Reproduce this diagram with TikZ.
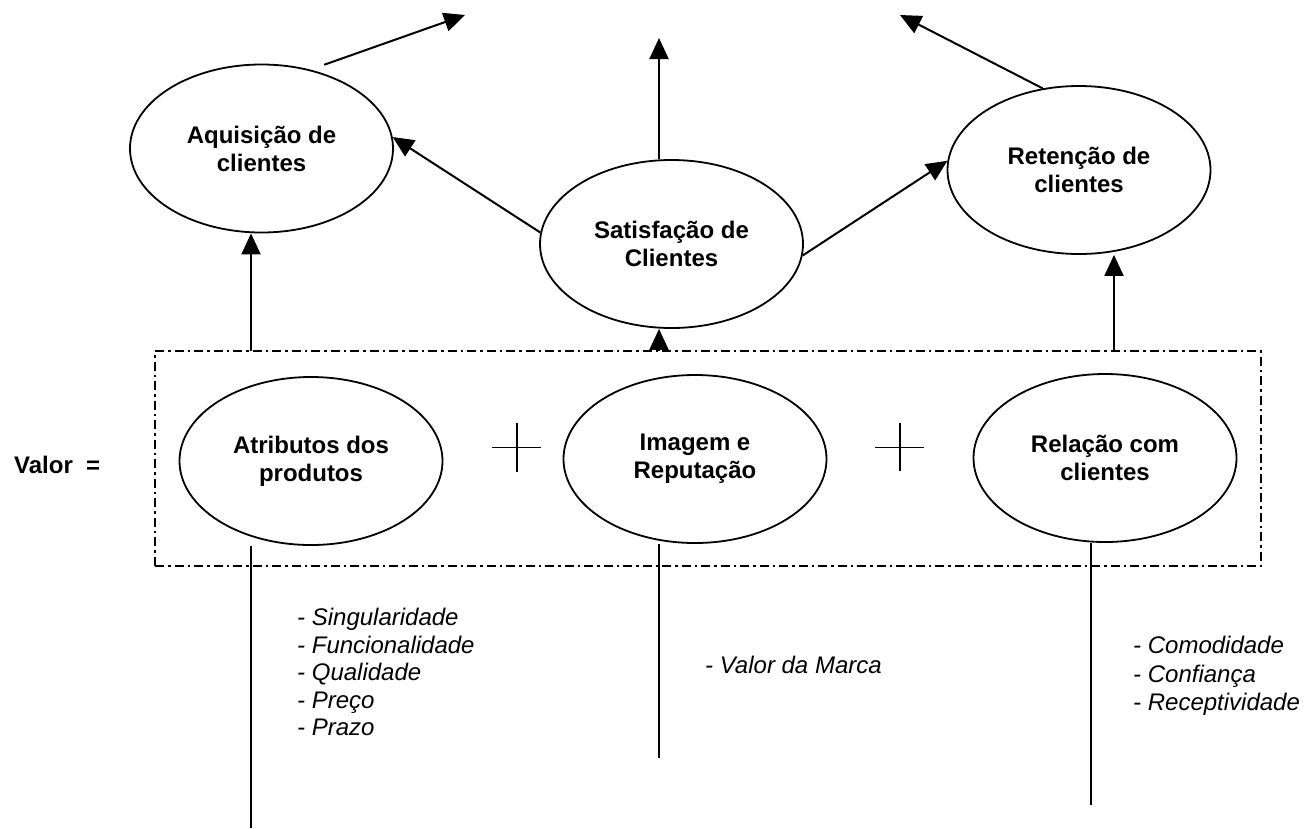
\documentclass[tikz,border=0pt]{standalone}
\usepackage{fontspec}
\setmainfont{Liberation Sans}
\usetikzlibrary{shapes.geometric,arrows.meta}
\begin{document}
\begin{tikzpicture}[x=1pt,y=-1pt,
  oval/.style={draw, line width=1.8pt, ellipse, minimum width=263pt, minimum height=168pt,
    inner sep=0pt, align=center, font=\fontsize{24}{28}\selectfont\bfseries},
  arr/.style={line width=2pt, -{Triangle[length=21pt,width=19pt]}},
  stem/.style={line width=2pt},
  frame/.style={draw, line width=1.8pt, dash pattern=on 9pt off 4pt on 2.5pt off 4pt},
  plusline/.style={line width=1.5pt},
  listtext/.style={align=left, inner sep=0pt, anchor=north west,
    font=\fontsize{24}{27.5}\selectfont\itshape},
  boldtext/.style={inner sep=0pt, font=\fontsize{24}{28}\selectfont\bfseries}]

\useasboundingbox (0,0) rectangle (1308,828);

% dashed frame around the three value components
\node[frame, minimum width=1106pt, minimum height=215pt, inner sep=0pt] (box) at (708,458.5) {};

% outcome ellipses
\node[oval] (aq)  at (261.5,148.5) {Aquisição de\\clientes};
\node[oval] (sat) at (671.5,244)   {Satisfação de\\Clientes};
\node[oval] (ret) at (1079,170)    {Retenção de\\clientes};

% value components
\node[oval] (atr) at (311,461)  {Atributos dos\\produtos};
\node[oval] (img) at (695,459)  {Imagem e\\Reputação};
\node[oval] (rel) at (1105,458) {Relação com\\clientes};

\node[boldtext, anchor=west] (valor) at (14,465) {Valor\ \ =};

% plus signs between components
\draw[plusline] (517,423) -- (517,472) (492,447.5) -- (541,447.5);
\draw[plusline] (900,423) -- (900,471) (875,447.5) -- (924,447.5);

% free ends of the connectors
\coordinate (t1) at (465,15);
\coordinate (t2) at (659,38);
\coordinate (t3) at (900,15);
\coordinate (b1) at (251,351);
\coordinate (b2) at (659,351);
\coordinate (b3) at (1114,351);
\coordinate (e1) at (251,828);
\coordinate (e2) at (659,758);
\coordinate (e3) at (1091,805);

% upward arrows
\draw[arr] ([yshift=9pt]aq.50) -- (t1);
\draw[arr] (t2 |- sat.north) -- (t2);
\draw[arr] (ret.114) -- (t3);
\draw[arr] (sat.175) -- (aq.5);
\draw[arr] (sat.-5) -- (ret.176);
\draw[arr] (b1) -- (b1 |- aq.south);
\draw[arr] (b2) -- (b2 |- sat.south);
\draw[arr] (b3) -- (b3 |- ret.south);

% stems below the components
\draw[stem] (e1 |- atr.south) -- (e1);
\draw[stem] (e2 |- img.south) -- (e2);
\draw[stem] (e3 |- rel.south) -- (e3);

% attribute lists
\node[listtext] (l1) at (297,608) {- Singularidade\\- Funcionalidade\\- Qualidade\\- Preço\\- Prazo};
\node[listtext] (l2) at (705,656) {- Valor da Marca};
\node[listtext, font=\fontsize{24}{28.5}\selectfont\itshape] (l3) at (1133,636)
  {- Comodidade\\- Confiança\\- Receptividade};

\end{tikzpicture}
\end{document}
